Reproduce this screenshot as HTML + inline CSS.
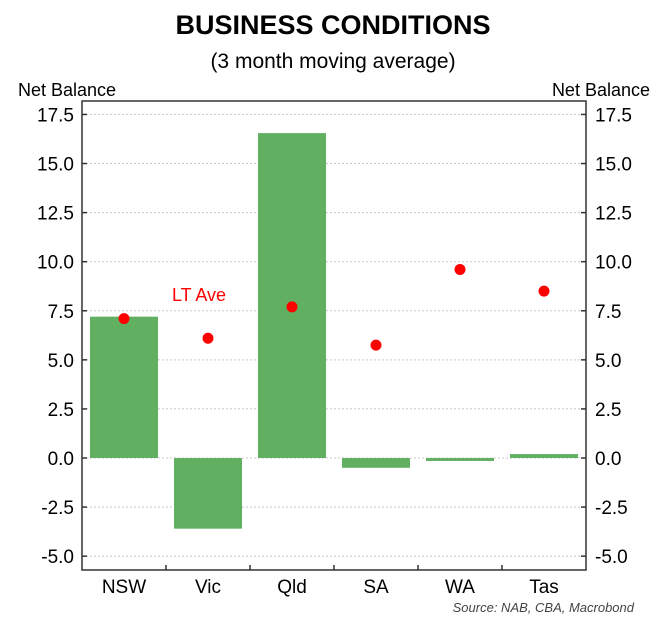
<!DOCTYPE html>
<html><head><meta charset="utf-8"><style>
body{margin:0;background:#fff;}
svg{display:block;font-family:"Liberation Sans",Arial,sans-serif;}
</style></head><body>
<svg id="chart" width="660" height="626" viewBox="0 0 660 626">
<text x="333" y="34" text-anchor="middle" font-size="27" font-weight="bold" fill="#000">BUSINESS CONDITIONS</text>
<text x="333" y="68" text-anchor="middle" font-size="21" fill="#000">(3 month moving average)</text>
<text x="18" y="96" font-size="18" fill="#000">Net Balance</text>
<text x="650" y="96" text-anchor="end" font-size="18" fill="#000">Net Balance</text>
<g id="grid"></g>
<g id="bars"></g>
<g id="dots"></g>
<g id="axes"></g>
<text x="172" y="301" font-size="18" fill="#ff0000">LT Ave</text>
<text x="634" y="612" text-anchor="end" font-size="13" font-style="italic" fill="#444">Source: NAB, CBA, Macrobond</text>
</svg>
<script>
const categories=["NSW","Vic","Qld","SA","WA","Tas"];
const conditions=[7.2,-3.6,16.55,-0.5,-0.15,0.2];
const ltAverage=[7.1,6.1,7.7,5.75,9.6,8.5];
const tickValues=[17.5,15,12.5,10,7.5,5,2.5,0,-2.5,-5];
const tickLabels=["17.5","15.0","12.5","10.0","7.5","5.0","2.5","0.0","-2.5","-5.0"];

const L=82,R=586,T=101,B=570;
const y0=458, pxPerUnit=(556-114.3)/22.5;
function y(v){return y0-v*pxPerUnit;}
const step=(R-L)/categories.length;
function xc(i){return L+step*(i+0.5);}
const NS="http://www.w3.org/2000/svg";
function mk(tag,attrs,parent){const e=document.createElementNS(NS,tag);for(const k in attrs)e.setAttribute(k,attrs[k]);parent.appendChild(e);return e;}
const grid=document.getElementById('grid'),bars=document.getElementById('bars'),dots=document.getElementById('dots'),axes=document.getElementById('axes');

tickValues.forEach((v,i)=>{
  const yy=y(v);
  const g=mk('line',{x1:L,x2:R,y1:yy,y2:yy,stroke:'#c8c8c8','stroke-width':1,'stroke-dasharray':'2,2'},grid);
  
  
  const t1=mk('line',{x1:L,x2:L+5,y1:yy,y2:yy,stroke:'#333','stroke-width':1.5},axes);
  
  
  const t2=mk('line',{x1:R-5,x2:R,y1:yy,y2:yy,stroke:'#333','stroke-width':1.5},axes);
  
  
  const a=mk('text',{x:L-8,y:yy+7,'text-anchor':'end','font-size':19,fill:'#000'},axes);
  a.textContent=tickLabels[i];
  
  
  const b=mk('text',{x:R+9,y:yy+7,'text-anchor':'start','font-size':19,fill:'#000'},axes);
  b.textContent=tickLabels[i];
  
  
});

categories.forEach((c,i)=>{
  const v=conditions[i];
  const bw=68;
  const r=mk('rect',{x:xc(i)-bw/2,y:Math.min(y(v),y(0)),width:bw,height:Math.abs(y(v)-y(0)),fill:'#61b061'},bars);
  
  
  const d=mk('circle',{cx:xc(i),cy:y(ltAverage[i]),r:5.5,fill:'#ff0000'},dots);
  
  
  const t=mk('text',{x:xc(i),y:593,'text-anchor':'middle','font-size':19,fill:'#000'},axes);
  t.textContent=c;
  
  
  if(i>0){
    const tk=mk('line',{x1:L+step*i,x2:L+step*i,y1:B,y2:B-5,stroke:'#333','stroke-width':1.5},axes);
    
    
  }
});
const frame=mk('rect',{x:L,y:T,width:R-L,height:B-T,fill:'none',stroke:'#333','stroke-width':1.5},axes);


</script>
</body></html>
